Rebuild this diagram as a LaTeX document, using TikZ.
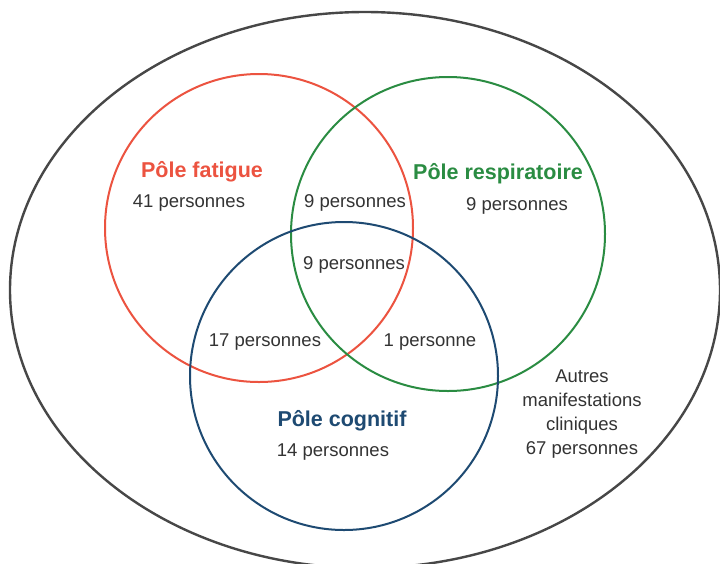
\documentclass[tikz,border=0pt]{standalone}
\usepackage{fontspec}
\setmainfont{Liberation Sans}
\definecolor{cred}{HTML}{EC5340}
\definecolor{cgreen}{HTML}{2A8C42}
\definecolor{cblue}{HTML}{1E4A72}
\definecolor{cgray}{HTML}{474747}
\definecolor{ctext}{HTML}{333333}
\begin{document}
\begin{tikzpicture}[x=1pt,y=-1pt,
  ring/.style={line width=2pt},
  cnt/.style={text=ctext,font=\fontsize{18.5}{24}\selectfont,inner sep=0pt,align=center},
  ttl/.style={font=\fontsize{21.5}{24}\selectfont\bfseries,inner sep=0pt}]
\useasboundingbox (0,0) rectangle (720,563);
\clip (0,0) rectangle (720,563);
\fill[white] (0,0) rectangle (720,563);
\draw[ring,cgray,line width=2.4pt] (365,290) ellipse [x radius=355, y radius=278];
\draw[ring,cred] (259,228) circle [radius=154];
\draw[ring,cgreen] (448,234) circle [radius=157];
\draw[ring,cblue] (344,376) circle [radius=154];
\node[ttl,text=cred] (tf) at (202,172) {Pôle fatigue};
\node[cnt] (nf) at (189,203) {41 personnes};
\node[ttl,text=cgreen] (tr) at (498,174) {Pôle respiratoire};
\node[cnt] (nr) at (517,206) {9 personnes};
\node[cnt] (nfr) at (355,203) {9 personnes};
\node[cnt] (nall) at (354,265) {9 personnes};
\node[cnt] (nfc) at (265,342) {17 personnes};
\node[cnt] (nrc) at (430,342) {1 personne};
\node[ttl,text=cblue] (tc) at (342,421) {Pôle cognitif};
\node[cnt] (nc) at (333,452) {14 personnes};
\node[cnt] (na) at (582,414) {Autres\\manifestations\\cliniques\\67 personnes};
\end{tikzpicture}
\end{document}
